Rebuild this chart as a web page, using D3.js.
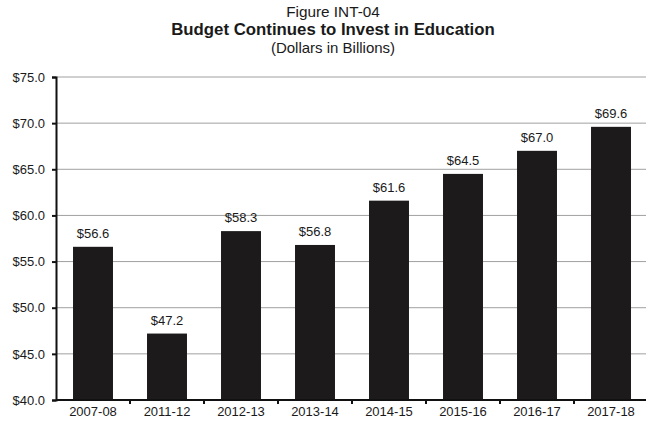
<!DOCTYPE html>
<html>
<head>
<meta charset="utf-8">
<script src="https://cdn.jsdelivr.net/npm/d3@7"></script>
<style>
  html, body { margin: 0; padding: 0; background: #fff; }
  svg { display: block; }
  text { font-family: "Liberation Sans", Arial, sans-serif; fill: #1a1a1a; }
</style>
</head>
<body>
<svg id="chart" width="646" height="421"></svg>
<script>
// Education budget by fiscal year, dollars in billions
const years = ["2007-08", "2011-12", "2012-13", "2013-14", "2014-15", "2015-16", "2016-17", "2017-18"];
const budget = [56.6, 47.2, 58.3, 56.8, 61.6, 64.5, 67.0, 69.6];
const yTicks = [40, 45, 50, 55, 60, 65, 70, 75];

const svg = d3.select("#chart");
const margin = { left: 56, right: -2, top: 77, bottom: 21 };
const W = 646, H = 421;

const x = d3.scaleBand()
  .domain(years)
  .range([margin.left, W - margin.right])
  .paddingInner(0.46)
  .paddingOuter(0.23);

const y = d3.scaleLinear()
  .domain([40, 75])
  .range([H - margin.bottom, margin.top]);

const fmt = v => "$" + v.toFixed(1);

// Titles
const cx = 333;
svg.append("text").attr("x", cx).attr("y", 17).attr("text-anchor", "middle")
  .style("font-size", "15.3px").text("Figure INT-04");
svg.append("text").attr("x", cx).attr("y", 35).attr("text-anchor", "middle")
  .style("font-size", "16.8px").style("font-weight", "bold")
  .text("Budget Continues to Invest in Education");
svg.append("text").attr("x", cx).attr("y", 53).attr("text-anchor", "middle")
  .style("font-size", "15px").text("(Dollars in Billions)");

// Horizontal gridlines
svg.append("g").selectAll("line")
  .data(yTicks.filter(t => t > 40))
  .join("line")
  .attr("x1", margin.left).attr("x2", W)
  .attr("y1", d => y(d)).attr("y2", d => y(d))
  .attr("stroke", "#a0a0a0").attr("stroke-width", 1);

// Bars
svg.append("g").selectAll("rect")
  .data(budget)
  .join("rect")
  .attr("x", (d, i) => x(years[i]))
  .attr("width", x.bandwidth())
  .attr("y", d => y(d))
  .attr("height", d => y(40) - y(d))
  .attr("fill", "#1c1a1a");

// Value labels
svg.append("g").selectAll("text")
  .data(budget)
  .join("text")
  .attr("x", (d, i) => x(years[i]) + x.bandwidth() / 2)
  .attr("y", d => y(d) - 9)
  .attr("text-anchor", "middle")
  .style("font-size", "13px")
  .text(d => fmt(d));

// Y axis
const yAxis = d3.axisLeft(y).tickValues(yTicks).tickFormat(fmt).tickSize(4).tickPadding(7);
const gy = svg.append("g").attr("transform", `translate(${margin.left},0)`).call(yAxis);
gy.select(".domain").attr("stroke", "#111").attr("stroke-width", 2);
gy.selectAll(".tick line").attr("stroke", "#111").attr("stroke-width", 2);
gy.selectAll(".tick text").style("font-size", "13px").attr("fill", "#1a1a1a")
  .style("font-family", "'Liberation Sans', Arial, sans-serif");

// X axis: labels at band centres, ticks at band boundaries
const xBase = y(40);
svg.append("line")
  .attr("x1", margin.left).attr("x2", W)
  .attr("y1", xBase).attr("y2", xBase)
  .attr("stroke", "#111").attr("stroke-width", 2);

const step = x.step();
const bounds = years.slice(1).map(yr => x(yr) - (step - x.bandwidth()) / 2);
svg.append("g").selectAll("line")
  .data(bounds)
  .join("line")
  .attr("x1", d => d).attr("x2", d => d)
  .attr("y1", xBase).attr("y2", xBase + 4)
  .attr("stroke", "#111").attr("stroke-width", 2);

svg.append("g").selectAll("text")
  .data(years)
  .join("text")
  .attr("x", d => x(d) + x.bandwidth() / 2)
  .attr("y", xBase + 16)
  .attr("text-anchor", "middle")
  .style("font-size", "13px")
  .text(d => d);
</script>
</body>
</html>
